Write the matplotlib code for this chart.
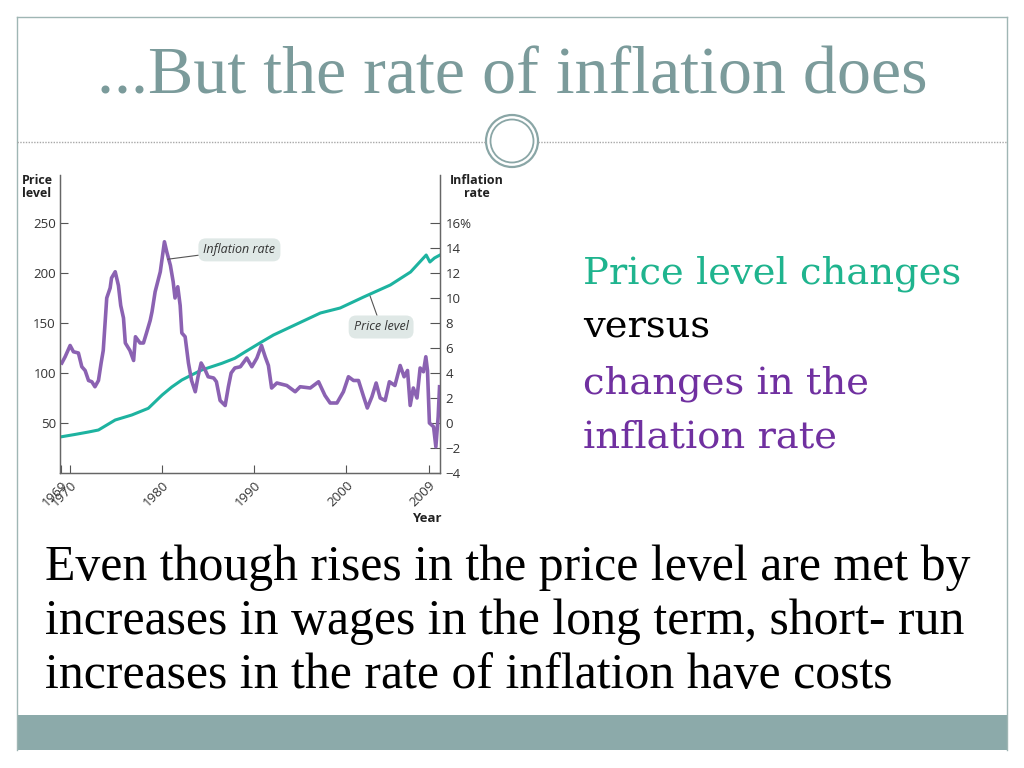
import matplotlib
matplotlib.use('Agg')
import matplotlib.pyplot as plt
from matplotlib.patches import Rectangle, Circle

# inflation rate (%)
infl_year = [1969.1, 1969.46, 1970.0, 1970.36, 1970.9, 1971.27, 1971.63, 1972.0, 1972.36, 1972.7,
             1973.08, 1973.37, 1973.6, 1973.98, 1974.35, 1974.5, 1974.9, 1975.25, 1975.5, 1975.8,
             1976.0, 1976.5, 1976.9, 1977.1, 1977.6, 1977.97, 1978.3, 1978.7, 1978.9, 1979.24,
             1979.8, 1980.25, 1980.5, 1980.9, 1981.2, 1981.4, 1981.7, 1981.96, 1982.14, 1982.5,
             1982.86, 1983.2, 1983.6, 1983.9, 1984.24, 1984.7, 1985.0, 1985.6, 1985.9, 1986.3,
             1986.85, 1987.2, 1987.5, 1987.9, 1988.5, 1989.2, 1989.75, 1990.3, 1990.8, 1991.2,
             1991.55, 1991.9, 1992.47, 1993.55, 1994.46, 1995.0, 1996.1, 1997.0, 1997.7, 1998.26,
             1999.0, 1999.7, 2000.25, 2000.8, 2001.34, 2001.9, 2002.3, 2002.8, 2003.26, 2003.7,
             2004.24, 2004.7, 2005.3, 2005.87, 2006.3, 2006.67, 2006.96, 2007.3, 2007.7, 2008.04,
             2008.4, 2008.66, 2008.84, 2009.05, 2009.5, 2009.75, 2010.0, 2010.15]
infl_rate = [4.8, 5.3, 6.2, 5.7, 5.6, 4.5, 4.2, 3.4, 3.3, 2.9,
             3.4, 4.8, 5.8, 10.0, 10.8, 11.6, 12.1, 11.0, 9.4, 8.4,
             6.4, 5.8, 5.0, 6.9, 6.4, 6.4, 7.2, 8.2, 8.9, 10.5,
             12.1, 14.5, 13.7, 12.6, 11.3, 10.0, 10.9, 9.4, 7.2, 6.9,
             4.8, 3.4, 2.5, 3.7, 4.8, 4.2, 3.7, 3.6, 3.3, 1.8,
             1.4, 2.9, 4.0, 4.4, 4.5, 5.2, 4.5, 5.2, 6.2, 5.3,
             4.6, 2.8, 3.2, 3.0, 2.5, 2.9, 2.8, 3.3, 2.2, 1.6,
             1.6, 2.5, 3.7, 3.4, 3.4, 2.1, 1.2, 2.1, 3.2, 2.0,
             1.8, 3.3, 3.0, 4.6, 3.7, 4.2, 1.4, 2.8, 2.0, 4.4,
             4.1, 5.3, 4.2, 0.0, -0.3, -1.9, 0.5, 2.9]

# price level (CPI, 1982-84 = 100)
price_year = [1968.9, 1969.1, 1970.5, 1972.0, 1973.08, 1974.9, 1976.7, 1978.5, 1980.0, 1981.05,
              1982.14, 1983.2, 1984.3, 1986.5, 1987.9, 1989.0, 1990.8, 1992.1, 1997.2, 1999.35,
              2001.9, 2004.8, 2007.0, 2008.0, 2008.7, 2009.1, 2009.6, 2010.2]
price_level = [36.0, 36.3, 38.5, 41.0, 43.0, 53.0, 58.0, 64.7, 78.0, 86.0,
               93.0, 98.0, 103.0, 109.7, 114.7, 121.0, 131.0, 138.0, 160.0, 165.0,
               176.0, 188.0, 201.0, 211.0, 218.0, 211.0, 215.0, 218.0]

year_ticks = [1969, 1970, 1980, 1990, 2000, 2009]
price_ticks = [50, 100, 150, 200, 250]
rate_ticks = [16, 14, 12, 10, 8, 6, 4, 2, 0, -2, -4]
rate_labels = ['16%', '14', '12', '10', '8', '6', '4', '2', '0', '\u22122', '\u22124']

W, H = 1024, 768
fig = plt.figure(figsize=(W / 100, H / 100), dpi=100)

# slide decoration, drawn in pixel units
bg = fig.add_axes([0, 0, 1, 1], zorder=0)
bg.set_xlim(0, W)
bg.set_ylim(H, 0)
bg.axis('off')
edge = '#9fb6b4'
bg.plot([17, 1007], [17, 17], color=edge, lw=1)
bg.plot([17, 17], [17, 750], color=edge, lw=1)
bg.plot([1007, 1007], [17, 750], color=edge, lw=1)
bg.add_patch(Rectangle((17, 715), 990, 35, color='#8caaaa', lw=0))
bg.plot([17, 486], [142, 142], color='#a8a8a8', lw=1, ls=(0, (1, 1)))
bg.plot([538, 1007], [142, 142], color='#a8a8a8', lw=1, ls=(0, (1, 1)))
bg.add_patch(Circle((512, 141), 26, facecolor='white', edgecolor='#8aa6a6', lw=1.6))
bg.add_patch(Circle((512, 141), 21.5, facecolor='white', edgecolor='#8aa6a6', lw=1.3))

serif = 'Liberation Serif'
bg.text(512, 93, '...But the rate of inflation does', ha='center', va='baseline',
        fontsize=49, family=serif, color='#7b9b9b')
lines = [('Price level changes', '#1fb48e'), ('versus', 'black'),
         ('changes in the', '#7030a0'), ('inflation rate', '#7030a0')]
for i, (txt, col) in enumerate(lines):
    bg.text(583, 283 + i * 55, txt, ha='left', va='baseline', fontsize=27.7,
            family='DejaVu Serif', color=col)
body = ['Even though rises in the price level are met by',
        'increases in wages in the long term, short- run',
        'increases in the rate of inflation have costs']
for i, txt in enumerate(body):
    bg.text(45, 580 + i * 54, txt, ha='left', va='baseline', fontsize=35.8,
            family=serif, color='black')

# the chart
sans = 'Open Sans'
ink = '#333333'
ax = fig.add_axes([60 / W, (H - 473) / H, 380 / W, 298 / H], zorder=2)
ax.patch.set_alpha(0)
ax2 = ax.twinx()
ax.plot(price_year, price_level, color='#1db3a0', lw=2.2, zorder=3)
ax2.plot(infl_year, infl_rate, color='#8b62b2', lw=2.6, zorder=2)

ax.set_xlim(1968.9, 2010.2)
ax.set_ylim(0, 298)
ax2.set_ylim(-4, -4 + 298 * 0.08)
ax.set_xticks(year_ticks)
ax.set_xticklabels([str(y) for y in year_ticks], rotation=45, ha='right', va='top',
                   rotation_mode='anchor', fontsize=9.5, family=sans, color=ink)
ax.set_yticks(price_ticks)
ax.set_yticklabels([str(p) for p in price_ticks], fontsize=9.5, family=sans, color=ink)
ax2.set_yticks(rate_ticks)
ax2.set_yticklabels(rate_labels, fontsize=9.5, family=sans, color=ink)
ax.tick_params(axis='both', direction='in', length=6, width=0.8, color='#555555', pad=3)
ax.tick_params(axis='x', pad=4)
ax2.tick_params(axis='y', direction='in', length=7, width=0.8, color='#555555', pad=4)
for a in (ax, ax2):
    a.spines['top'].set_visible(False)
    for s in ('left', 'right', 'bottom'):
        a.spines[s].set_color('#666666')
        a.spines[s].set_linewidth(0.9)

bg.text(22, 187, 'Price\nlevel', ha='left', va='center', fontsize=9, family=sans,
        fontweight='bold', color='#222222', linespacing=1.0)
bg.text(477, 187, 'Inflation\nrate', ha='center', va='center', fontsize=9, family=sans,
        fontweight='bold', color='#222222', linespacing=1.0)
bg.text(427, 519, 'Year', ha='center', va='center', fontsize=9.5, family=sans,
        fontweight='bold', color='#222222')

box = dict(boxstyle='round,pad=0.4,rounding_size=0.6', facecolor='#dfe8e6', edgecolor='none')
ax2.annotate('Inflation rate', xy=(1980.6, 13.1), xytext=(1988.4, 13.85),
             ha='center', va='center', fontsize=9, family=sans, style='italic',
             color=ink, bbox=box,
             arrowprops=dict(arrowstyle='-', color='#555555', lw=0.8, shrinkA=0, shrinkB=0))
ax.annotate('Price level', xy=(2002.6, 177), xytext=(2003.8, 146),
            ha='center', va='center', fontsize=9, family=sans, style='italic',
            color=ink, bbox=box,
            arrowprops=dict(arrowstyle='-', color='#555555', lw=0.8, shrinkA=0, shrinkB=0))

fig.savefig('out.png', dpi=100)
